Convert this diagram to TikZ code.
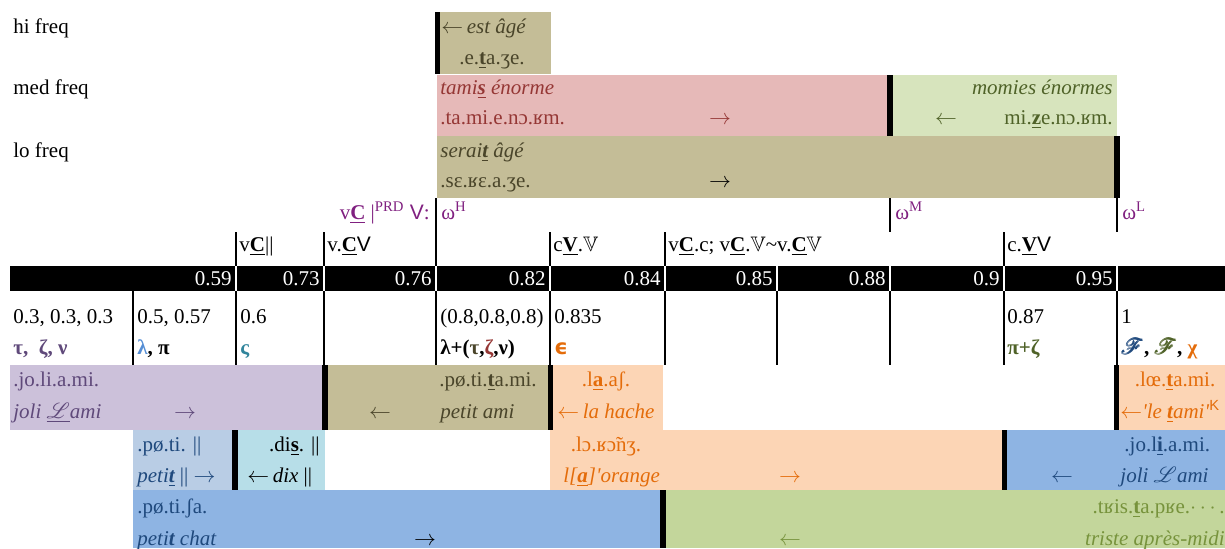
\documentclass[tikz,border=0pt]{standalone}
\usepackage{amssymb}
\usepackage{amsmath}
\usepackage{mathrsfs}
\usepackage{fontspec}
\setmainfont{Liberation Serif}
\setsansfont{Liberation Sans}
\newfontfamily\dejavu{DejaVu Sans}
\usetikzlibrary{positioning}

\definecolor{tanbox}{RGB}{196,189,151}
\definecolor{pinkbox}{RGB}{230,185,184}
\definecolor{lgreenbox}{RGB}{215,228,189}
\definecolor{purplebox}{RGB}{204,193,218}
\definecolor{orangebox}{RGB}{252,213,181}
\definecolor{lbluebox}{RGB}{185,205,229}
\definecolor{cyanbox}{RGB}{183,222,232}
\definecolor{bluebox}{RGB}{142,180,227}
\definecolor{greenbox}{RGB}{195,214,155}
\definecolor{olivetx}{RGB}{74,69,42}
\definecolor{redtx}{RGB}{149,55,53}
\definecolor{greentx}{RGB}{79,98,40}
\definecolor{purpletx}{RGB}{95,73,122}
\definecolor{orangetx}{RGB}{228,108,10}
\definecolor{bluetx}{RGB}{31,73,125}
\definecolor{lambdatx}{RGB}{85,142,213}
\definecolor{tealtx}{RGB}{49,133,156}
\definecolor{ltgreentx}{RGB}{119,147,60}
\definecolor{omegatx}{RGB}{128,32,128}

\newcommand{\ulb}[1]{\underline{\textbf{#1}}}
\newcommand{\ra}{$\rightarrow$}
\newcommand{\la}{$\leftarrow$}

\begin{document}
\begin{tikzpicture}[
  x=0.5pt,y=-0.5pt,
  font=\fontsize{10.5}{12.6}\selectfont,
  txt/.style={anchor=base west,inner sep=0pt},
  txtr/.style={anchor=base east,inner sep=0pt},
  txtc/.style={anchor=base,inner sep=0pt},
  sep/.style={fill=black},
  rule/.style={draw=black,line width=0.8pt}
]
  \useasboundingbox (0,0) rectangle (1225,548);

  % frequency labels
  \node[txt] (hi)  at (13,33)  {hi freq};
  \node[txt] (med) at (13,94)  {med freq};
  \node[txt] (lo)  at (13,157) {lo freq};

  % hi freq
  \fill[tanbox] (435,12) rectangle (551,74);
  \fill[sep] (435,12) rectangle (440,74);
  \node[txt,text=olivetx]  (hiw) at (441,33) {\la\,\textit{est âgé}};
  \node[txtc,text=olivetx] (hip) at (492,64) {.e.\ulb{t}a.ʒe.};

  % med freq
  \fill[pinkbox] (437,75) rectangle (890,136);
  \fill[lgreenbox] (890,75) rectangle (1117,136);
  \fill[sep] (887,75) rectangle (893,136);
  \node[txt,text=redtx]    (medw)  at (440,94)   {\textit{tami\ulb{s} énorme}};
  \node[txt,text=redtx]    (medp)  at (440,124)  {.ta.mi.e.nɔ.ʁm.};
  \node[txtc,text=redtx]   (meda)  at (720,124)  {\ra};
  \node[txtr,text=greentx] (medw2) at (1113,94)  {\textit{momies énormes}};
  \node[txtr,text=greentx] (medp2) at (1113,124) {mi.\ulb{z}e.nɔ.ʁm.};
  \node[txtc,text=greentx] (meda2) at (946,124)  {\la};

  % lo freq
  \fill[tanbox] (437,136) rectangle (1117,198);
  \fill[sep] (1114,136) rectangle (1120,198);
  \node[txt,text=olivetx] (low) at (440,157) {\textit{serai\ulb{t} âgé}};
  \node[txt,text=olivetx] (lop) at (440,187) {.sɛ.ʁɛ.a.ʒe.};
  \node[txtc]             (loa) at (720,187) {\ra};

  % omega marks
  \foreach \x in {436,890,1117} \draw[rule] (\x,198) -- (\x,232);
  \node[txtr,text=omegatx] (prd) at (430,219) {v\ulb{C} |\textsuperscript{PRD} \textsf{V}:};
  \node[txt,text=omegatx] (omH) at (441,219)  {ω\textsuperscript{H}};
  \node[txt,text=omegatx] (omM) at (895,219)  {ω\textsuperscript{M}};
  \node[txt,text=omegatx] (omL) at (1122,219) {ω\textsuperscript{L}};

  % contexts
  \foreach \x in {236,324,436,550,665,1004} \draw[rule] (\x,232) -- (\x,266);
  \node[txt] (ctxA) at (239,251)  {v\ulb{C}||};
  \node[txt] (ctxB) at (327,251)  {v.\ulb{C}\textsf{V}};
  \node[txt] (ctxC) at (553,251)  {c\ulb{V}.$\mathbb{V}$};
  \node[txt] (ctxD) at (668,251)  {v\ulb{C}.c; v\ulb{C}.$\mathbb{V}$\textasciitilde v.\ulb{C}$\mathbb{V}$};
  \node[txt] (ctxE) at (1007,251) {c.\ulb{V}\textsf{V}};

  % scale bar
  \fill[black] (10,266) rectangle (1225,291);
  \foreach \x/\v in {236/0.59,324/0.73,436/0.76,550/0.82,665/0.84,777/0.85,890/0.88,1004/0.9,1117/0.95}
  {
    \draw[white,line width=0.8pt] (\x,266) -- (\x,291);
    \node[txtr,text=white] (num\x) at ({\x-4},285) {\v};
  }

  % values
  \foreach \x in {133,236,324,436,550,665,777,890,1004,1117} \draw[rule] (\x,291) -- (\x,365);
  \node[txt] (valA) at (13,323)   {0.3, 0.3, 0.3};
  \node[txt,text=purpletx] (symA) at (13,354) {\textbf{τ,~ ζ, ν}};
  \node[txt] (valB) at (137,323)  {0.5, 0.57};
  \node[txt] (symB) at (137,354)  {\textbf{\textcolor{lambdatx}{λ}, π}};
  \node[txt] (valC) at (240,323)  {0.6};
  \node[txt,text=tealtx] (symC) at (240,354) {\textbf{ς}};
  \node[txt] (valD) at (440,323)  {(0.8,0.8,0.8)};
  \node[txt] (symD) at (440,354)  {\textbf{λ+(\textcolor{olivetx}{τ},\textcolor{redtx}{ζ},ν)}};
  \node[txt] (valE) at (554,323)  {0.835};
  \node[txt,text=orangetx] (symE) at (554,354) {\dejavu\bfseries ϵ};
  \node[txt] (valF) at (1007,323) {0.87};
  \node[txt,text=greentx] (symF) at (1007,354) {\textbf{π+ζ}};
  \node[txt] (valG) at (1121,323) {1};
  \node[txt] (symG) at (1121,354) {\textcolor{bluetx}{$\pmb{\mathscr{F}}$}\textbf{,} \textcolor{greentx}{$\pmb{\mathscr{F}}$}\textbf{,} \textcolor{orangetx}{\textbf{χ}}};

  % row 1
  \fill[purplebox] (10,365) rectangle (322,430);
  \fill[tanbox] (322,365) rectangle (548,430);
  \fill[sep] (322,365) rectangle (328,430);
  \fill[orangebox] (548,365) rectangle (663,430);
  \fill[sep] (548,365) rectangle (553,430);
  \fill[orangebox] (1117,365) rectangle (1225,430);
  \fill[sep] (1114,365) rectangle (1119,430);
  \node[txt,text=purpletx]  (jolA)  at (13,386)   {.jo.li.a.mi.};
  \node[txt,text=purpletx]  (jolAw) at (13,418)   {\textit{joli} \underline{$\mathscr{L}$}\textit{ami}};
  \node[txtc,text=purpletx] (jolAa) at (185,418)  {\ra};
  \node[txtc,text=olivetx]  (petA)  at (488,386)  {.pø.ti.\ulb{t}a.mi.};
  \node[txtc,text=olivetx]  (petAa) at (380,418)  {\la};
  \node[txt,text=olivetx]   (petAw) at (440,418)  {\textit{petit ami}};
  \node[txtc,text=orangetx] (hach)  at (606,386)  {.l\ulb{a}.aʃ.};
  \node[txt,text=orangetx]  (hachw) at (557,418)  {\la\,\textit{la hache}};
  \node[txtc,text=orangetx] (tami)  at (1175,386) {.lœ.\ulb{t}a.mi.};
  \node[txt,text=orangetx]  (tamiw) at (1120,418) {\la\textit{\textquotesingle le \ulb{t}ami\textquotesingle}\textsuperscript{\textsf{K}}};

  % row 2
  \fill[lbluebox] (133,430) rectangle (232,490);
  \fill[cyanbox] (238,430) rectangle (325,490);
  \fill[sep] (232,430) rectangle (238,490);
  \fill[orangebox] (550,430) rectangle (1002,490);
  \fill[bluebox] (1007,430) rectangle (1225,490);
  \fill[sep] (1002,430) rectangle (1007,490);
  \node[txt,text=bluetx]    (petB)  at (137,451)  {.pø.ti. ||};
  \node[txt,text=bluetx]    (petBw) at (137,482)  {\textit{peti\ulb{t}} || \ra};
  \node[txtr]               (dix)   at (320,451)  {.di\ulb{s}. ||};
  \node[txt]                (dixw)  at (247,482)  {\la\,\textit{dix} ||};
  \node[txtc,text=orangetx] (oran)  at (606,451)  {.lɔ.ʁɔ̃nʒ.};
  \node[txt,text=orangetx]  (oranw) at (563,482)  {\textit{l[\ulb{a}]\textquotesingle orange}};
  \node[txtc,text=orangetx] (orana) at (790,482)  {\ra};
  \node[txt,text=bluetx]    (jolB)  at (1124,451) {.jo.l\ulb{i}.a.mi.};
  \node[txtc,text=bluetx]   (jolBa) at (1062,482) {\la};
  \node[txt,text=bluetx]    (jolBw) at (1120,482) {\textit{joli} $\mathscr{L}$\textit{ami}};

  % row 3
  \fill[bluebox] (133,490) rectangle (660,548);
  \fill[greenbox] (666,490) rectangle (1225,548);
  \fill[sep] (660,490) rectangle (666,548);
  \node[txt,text=bluetx]      (chat)  at (137,513)  {.pø.ti.ʃa.};
  \node[txt,text=bluetx]      (chatw) at (137,545)  {\textit{peti\textbf{t} chat}};
  \node[txtc]                 (chata) at (425,545)  {\ra};
  \node[txtr,text=ltgreentx]  (tris)  at (1225,513) {.tʁis.\ulb{t}a.pʁe.$\cdots$.};
  \node[txtc,text=ltgreentx]  (trisa) at (790,545)  {\la};
  \node[txtr,text=ltgreentx]  (trisw) at (1225,545) {\textit{triste après-midi}};

\end{tikzpicture}
\end{document}
